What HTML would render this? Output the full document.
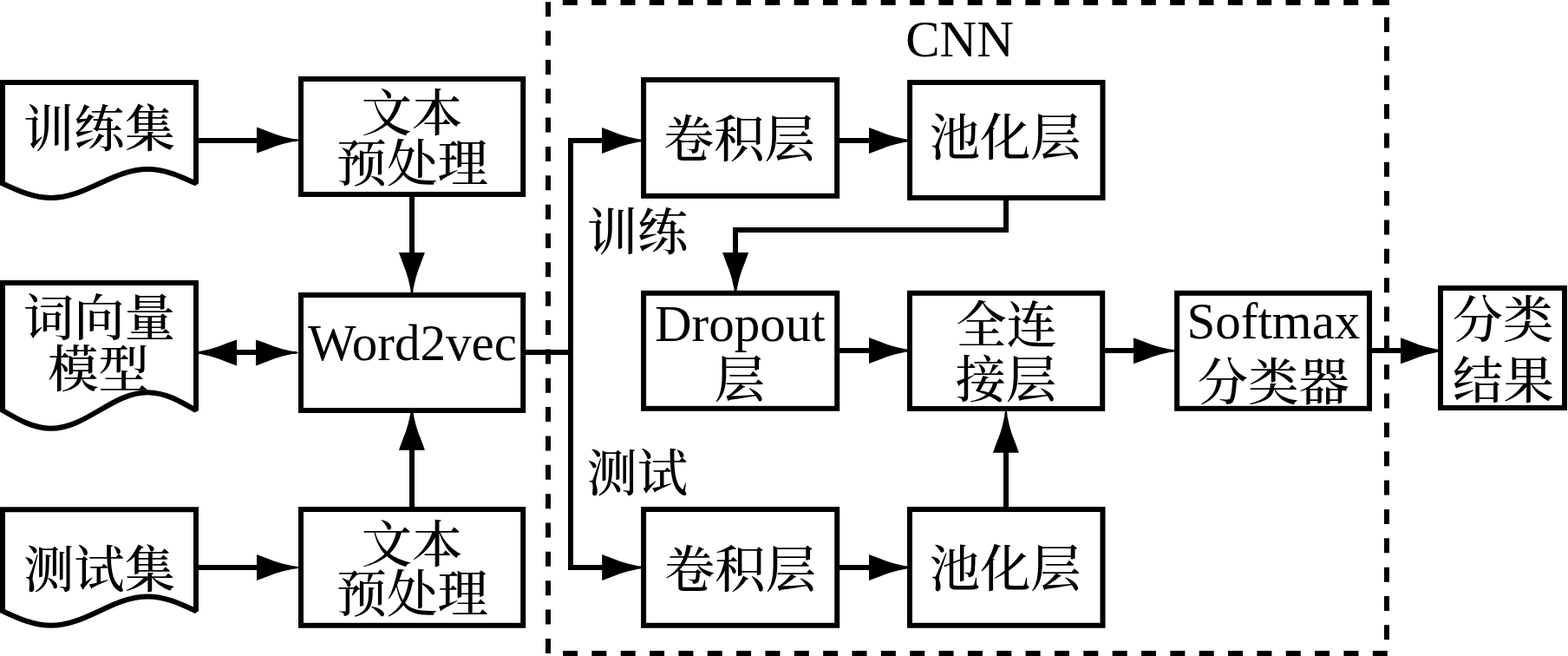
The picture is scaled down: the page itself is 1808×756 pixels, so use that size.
<!DOCTYPE html>
<html lang="zh-CN">
<head>
<meta charset="utf-8">
<title>CNN 文本分类流程图</title>
<style>
html, body { margin: 0; padding: 0; background: #fff; }
body { width: 1808px; height: 756px; overflow: hidden; }
svg { display: block; }
.d line { stroke: #000; stroke-width: 6; stroke-dasharray: 17 16.35; fill: none; }
.k { fill: #000; }
.b rect, .b path { stroke: #000; stroke-width: 6; fill: #fff; stroke-linejoin: miter; stroke-miterlimit: 1.6; }
.c line, .c polyline { stroke: #000; stroke-width: 6; fill: none; stroke-linejoin: miter; }
.c .h { fill: #000; stroke: none; }
.t text { font-family: "Liberation Serif", "Noto Serif CJK SC", serif; font-size: 58.33px; font-weight: 500; fill: #000; text-anchor: middle; }
.t text.l { font-size: 59px; font-weight: 400; }
</style>
</head>
<body>
<svg width="1808" height="756" viewBox="0 0 1808 756">
<g class="d">
<line x1="632" y1="2.2" x2="632" y2="754"/>
<line x1="648.8" y1="3" x2="1600" y2="3"/>
<line x1="1599" y1="20" x2="1599" y2="750"/>
<line x1="649" y1="753" x2="1600" y2="753"/>
</g>
<rect class="k" x="1596" y="0" width="6" height="6"/>
<g class="b">
<rect x="347" y="91" width="256.2" height="133"/>
<rect x="347" y="340" width="256.2" height="133"/>
<rect x="347" y="587" width="256.2" height="133.8"/>
<rect x="742.1" y="92" width="223" height="133.8"/>
<rect x="1049.1" y="95" width="222.4" height="133"/>
<rect x="742.1" y="337.8" width="223.1" height="133"/>
<rect x="1049" y="337.8" width="222.2" height="133.2"/>
<rect x="1357.1" y="337.8" width="221.9" height="133"/>
<rect x="1661" y="332" width="143" height="138"/>
<rect x="742.1" y="587" width="223.1" height="133.8"/>
<rect x="1049" y="587" width="222.5" height="133.8"/>
<path d="M3 211.5 L3 95 L226 95 L226 211.5 C207.82 203.05 190.43 195 170.25 195 C150.07 195 132.68 203.05 114.5 211.5 C96.32 219.95 78.93 228 58.75 228 C38.57 228 21.18 219.95 3 211.5 Z"/>
<path d="M3 473 L3 326 L226 326 L226 473 C207.82 462.37 190.43 452.25 170.25 452.25 C150.07 452.25 132.68 462.37 114.5 473 C96.32 483.63 78.93 493.75 58.75 493.75 C38.57 493.75 21.18 483.63 3 473 Z"/>
<path d="M3 704.2 L3 587.3 L226 587.3 L226 704.2 C207.82 695.7 190.43 687.6 170.25 687.6 C150.07 687.6 132.68 695.7 114.5 704.2 C96.32 712.7 78.93 720.8 58.75 720.8 C38.57 720.8 21.18 712.7 3 704.2 Z"/>
</g>
<g class="c">
<line x1="229" y1="162" x2="300" y2="162"/>
<polygon class="h" points="296,146.6 306.7,150.5 317,154.5 326.5,157.4 337.7,159.9 342.5,160.3 345,161.6 342.5,162.9 337.7,163.3 326.5,165.8 317,168.7 306.7,172.7 296,176.6"/>
<line x1="268" y1="406" x2="300" y2="406"/>
<polygon class="h" points="273,391.4 262.3,395.3 252,399.3 242.5,402.2 231.3,404.7 226.5,405.1 224,406.4 226.5,407.7 231.3,408.1 242.5,410.6 252,413.5 262.3,417.5 273,421.4"/>
<polygon class="h" points="295,391.4 305.7,395.3 316,399.3 325.5,402.2 336.7,404.7 341.5,405.1 344,406.4 341.5,407.7 336.7,408.1 325.5,410.6 316,413.5 305.7,417.5 295,421.4"/>
<line x1="229" y1="654" x2="300" y2="654"/>
<polygon class="h" points="296,639 306.7,642.9 317,646.9 326.5,649.8 337.7,652.3 342.5,652.7 345,654 342.5,655.3 337.7,655.7 326.5,658.2 317,661.1 306.7,665.1 296,669"/>
<line x1="475" y1="226" x2="475" y2="295"/>
<polygon class="h" points="459.9,290.9 463.8,301.6 467.8,311.9 470.7,321.4 473.2,332.6 473.6,337.4 474.9,339.9 476.2,337.4 476.6,332.6 479.1,321.4 482,311.9 486,301.6 489.9,290.9"/>
<line x1="475" y1="585" x2="475" y2="514"/>
<polygon class="h" points="459.9,518.8 463.8,508.1 467.8,497.8 470.7,488.3 473.2,477.1 473.6,472.3 474.9,469.8 476.2,472.3 476.6,477.1 479.1,488.3 482,497.8 486,508.1 489.9,518.8"/>
<line x1="605" y1="406" x2="658" y2="406"/>
<polyline points="700,162 658,162 658,654 700,654"/>
<polygon class="h" points="694,147 704.7,150.9 715,154.9 724.5,157.8 735.7,160.3 740.5,160.7 743,162 740.5,163.3 735.7,163.7 724.5,166.2 715,169.1 704.7,173.1 694,177"/>
<polygon class="h" points="694.2,639 704.9,642.9 715.2,646.9 724.7,649.8 735.9,652.3 740.7,652.7 743.2,654 740.7,655.3 735.9,655.7 724.7,658.2 715.2,661.1 704.9,665.1 694.2,669"/>
<line x1="967" y1="162" x2="1006" y2="162"/>
<polygon class="h" points="1002,147 1012.7,150.9 1023,154.9 1032.5,157.8 1043.7,160.3 1048.5,160.7 1051,162 1048.5,163.3 1043.7,163.7 1032.5,166.2 1023,169.1 1012.7,173.1 1002,177"/>
<line x1="967" y1="654" x2="1006" y2="654"/>
<polygon class="h" points="1002,639 1012.7,642.9 1023,646.9 1032.5,649.8 1043.7,652.3 1048.5,652.7 1051,654 1048.5,655.3 1043.7,655.7 1032.5,658.2 1023,661.1 1012.7,665.1 1002,669"/>
<line x1="967" y1="404" x2="1006" y2="404"/>
<polygon class="h" points="1002,389 1012.7,392.9 1023,396.9 1032.5,399.8 1043.7,402.3 1048.5,402.7 1051,404 1048.5,405.3 1043.7,405.7 1032.5,408.2 1023,411.1 1012.7,415.1 1002,419"/>
<line x1="1273" y1="404" x2="1311" y2="404"/>
<polygon class="h" points="1307,389.3 1317.7,393.2 1328,397.2 1337.5,400.1 1348.7,402.6 1353.5,403 1356,404.3 1353.5,405.6 1348.7,406 1337.5,408.5 1328,411.4 1317.7,415.4 1307,419.3"/>
<line x1="1581" y1="404" x2="1619" y2="404"/>
<polygon class="h" points="1615,389.3 1625.7,393.2 1636,397.2 1645.5,400.1 1656.7,402.6 1661.5,403 1664,404.3 1661.5,405.6 1656.7,406 1645.5,408.5 1636,411.4 1625.7,415.4 1615,419.3"/>
<polyline points="1160,230 1160,265 848,265 848,295"/>
<polygon class="h" points="833.1,291 837,301.7 841,312 843.9,321.5 846.4,332.7 846.8,337.5 848.1,340 849.4,337.5 849.8,332.7 852.3,321.5 855.2,312 859.2,301.7 863.1,291"/>
<line x1="1160" y1="585" x2="1160" y2="517"/>
<polygon class="h" points="1144.9,521.8 1148.8,511.1 1152.8,500.8 1155.7,491.3 1158.2,480.1 1158.6,475.3 1159.9,472.8 1161.2,475.3 1161.6,480.1 1164.1,491.3 1167,500.8 1171,511.1 1174.9,521.8"/>
</g>
<g class="t">
<text x="114.5" y="169.4">训练集</text>
<text x="114.5" y="387">词向量</text>
<text x="113.5" y="445.6">模型</text>
<text x="114.5" y="676.8">测试集</text>
<text x="475" y="150.7">文本</text>
<text x="475.3" y="208.6">预处理</text>
<text class="l" x="475.4" y="415.3">Word2vec</text>
<text x="475" y="647.7">文本</text>
<text x="475.3" y="705">预处理</text>
<text class="l" x="1106.5" y="65">CNN</text>
<text x="852.4" y="181.4">卷积层</text>
<text x="1159.2" y="179">池化层</text>
<text x="735" y="287.8">训练</text>
<text x="734.8" y="566">测试</text>
<text class="l" x="853.3" y="393">Dropout</text>
<text x="853" y="458">层</text>
<text x="1160.5" y="394.7">全连</text>
<text x="1160" y="458.3">接层</text>
<text class="l" x="1468.4" y="390">Softmax</text>
<text x="1468.3" y="461.2">分类器</text>
<text x="1733" y="388.6">分类</text>
<text x="1733.4" y="459.3">结果</text>
<text x="853.5" y="676.8">卷积层</text>
<text x="1159.2" y="676.3">池化层</text>
</g>
</svg>
</body>
</html>
